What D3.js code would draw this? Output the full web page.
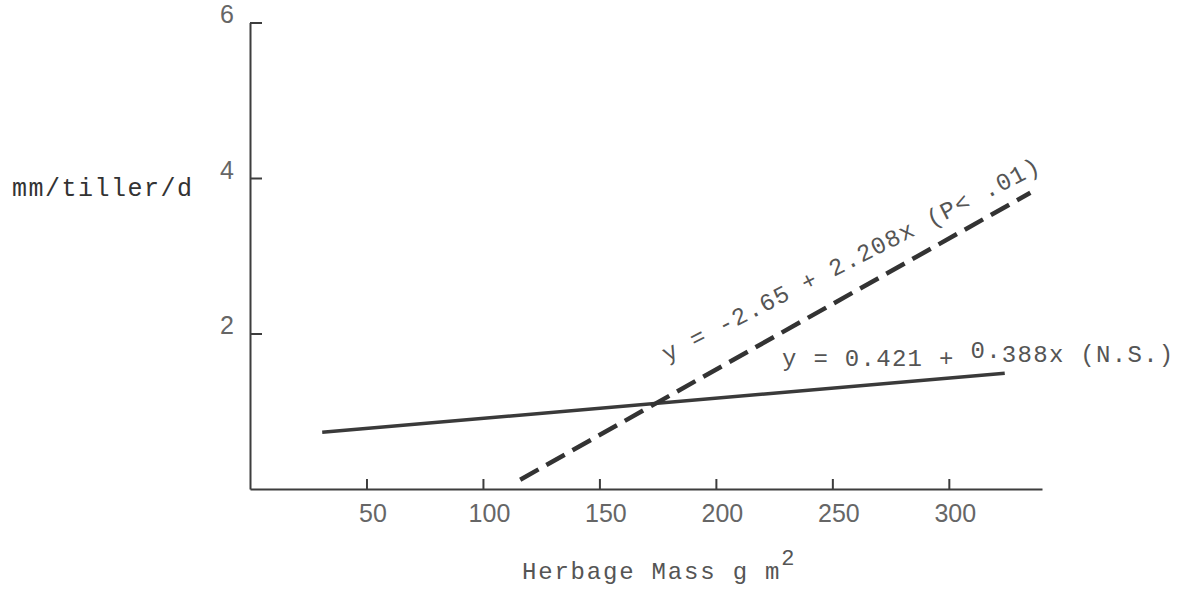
<!DOCTYPE html>
<html>
<head>
<meta charset="utf-8">
<script src="https://cdn.jsdelivr.net/npm/d3@7"></script>
<style>
  html, body { margin: 0; padding: 0; background: #ffffff; }
  svg { display: block; }
</style>
</head>
<body>
<svg id="chart" width="1181" height="589"></svg>
<script>
// ---- data ----
const xTicks = [50, 100, 150, 200, 250, 300];
const yTicks = [2, 4, 6];
const xDomain = [0, 340];
const yDomain = [0, 6];

// Regression line for N.S. (solid)
const solidX = [31, 324];
const solidY = [0.73, 1.49];
// Regression line P<.01 (dashed)
const dashedX = [116, 335];
const dashedY = [0.12, 3.81];

const yAxisTitle = "mm/tiller/d";
const xAxisTitle = "Herbage Mass g m";
const xAxisTitleSup = "2";
const eqDashed = "y = -2.65 + 2.208x (P< .01)";
const eqSolidA = "y = 0.421 + ";
const eqSolidB = "0.";
const eqSolidC = "388x (N.S.)";

// ---- drawing ----
const svg = d3.select("#chart");
const x = d3.scaleLinear().domain(xDomain).range([250, 1042]);
const y = d3.scaleLinear().domain(yDomain).range([489, 22.5]);

const axisColor = "#3d3d3d";
const monoFont = "'Liberation Mono', 'DejaVu Sans Mono', monospace";
const tickFont = "'Liberation Sans', Arial, sans-serif";

// Y axis
const yAxis = svg.append("g")
  .attr("transform", `translate(${x(0)},0)`)
  .call(d3.axisLeft(y).tickValues(yTicks).tickSizeInner(-12).tickSizeOuter(0).tickPadding(16).tickFormat(d3.format("d")));
yAxis.select(".domain").attr("stroke", axisColor).attr("stroke-width", 2);
yAxis.selectAll(".tick line").attr("stroke", axisColor).attr("stroke-width", 2);
yAxis.selectAll(".tick text")
  .attr("font-family", tickFont).attr("font-size", 25).attr("fill", "#666")
  .attr("dy", "0.0em");

// X axis
const xAxis = svg.append("g")
  .attr("transform", `translate(0,${y(0)})`)
  .call(d3.axisBottom(x).tickValues(xTicks).tickSizeInner(-10).tickSizeOuter(0).tickFormat(d3.format("d")));
xAxis.select(".domain").attr("stroke", axisColor).attr("stroke-width", 2);
xAxis.selectAll(".tick line").attr("stroke", axisColor).attr("stroke-width", 2);
xAxis.selectAll(".tick text")
  .attr("font-family", tickFont).attr("font-size", 25).attr("fill", "#666")
  .attr("y", 33).attr("dy", 0).attr("dx", 6);

// Lines
const line = d3.line().x(d => x(d[0])).y(d => y(d[1]));
svg.append("path")
  .datum(d3.zip(solidX, solidY))
  .attr("d", line)
  .attr("fill", "none").attr("stroke", "#3a3a3a").attr("stroke-width", 3.5);

svg.append("path")
  .datum(d3.zip(dashedX, dashedY))
  .attr("d", line)
  .attr("fill", "none").attr("stroke", "#333").attr("stroke-width", 4.5)
  .attr("stroke-dasharray", "21,9");

// Axis titles
svg.append("text")
  .attr("x", 12).attr("y", 196)
  .attr("font-family", monoFont).attr("font-size", 25).attr("letter-spacing", 1.5)
  .attr("fill", "#333")
  .text(yAxisTitle);

const xt = svg.append("text")
  .attr("x", 522).attr("y", 579)
  .attr("font-family", monoFont).attr("font-size", 24).attr("letter-spacing", 1.8)
  .attr("fill", "#555");
xt.append("tspan").text(xAxisTitle);
xt.append("tspan").attr("dy", -14).attr("font-size", 22).text(xAxisTitleSup);

// Equations
svg.append("text")
  .attr("transform", "translate(667,362) rotate(-27)")
  .attr("font-family", monoFont).attr("font-size", 24).attr("letter-spacing", 1.2)
  .attr("fill", "#555")
  .text(eqDashed);

const eq2 = svg.append("text")
  .attr("x", 782).attr("y", 366)
  .attr("font-family", monoFont).attr("font-size", 24).attr("letter-spacing", 1.3)
  .attr("fill", "#555");
eq2.append("tspan").text(eqSolidA);
eq2.append("tspan").attr("dy", -8).text(eqSolidB);
eq2.append("tspan").attr("dy", 4).text(eqSolidC);
</script>
</body>
</html>
